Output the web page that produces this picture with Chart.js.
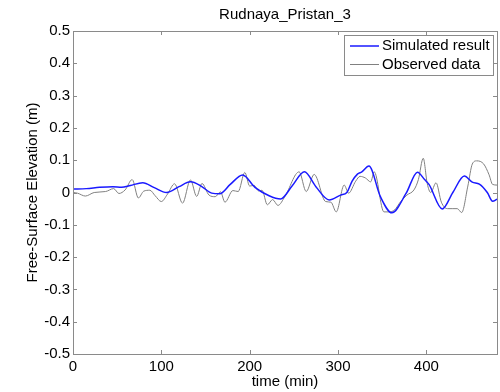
<!DOCTYPE html>
<html>
<head>
<meta charset="utf-8">
<script src="https://cdn.jsdelivr.net/npm/chart.js@4/dist/chart.umd.min.js"></script>
<style>
  html, body { margin: 0; padding: 0; background: #fff; }
  #wrap { width: 500px; height: 392px; }
</style>
</head>
<body>
<div id="wrap"><canvas id="chart"></canvas></div>
<script>
// Values (time in minutes, elevation in metres)
const chartTitle = "Rudnaya_Pristan_3";
const simTime = [0, 15, 30, 45, 55, 65, 79, 92, 106, 120, 133, 145, 157, 166, 178, 192, 206, 222, 235, 248,
                 262, 275, 290, 303, 310, 316, 322, 327, 335, 348, 361, 377, 390, 398, 403, 418, 430, 443, 452, 460,
                 469, 475, 480];
const simValues = [0.011, 0.012, 0.016, 0.018, 0.016, 0.022, 0.030, 0.015, 0.0, 0.018, 0.033, 0.020, -0.002, -0.004, 0.025, 0.054, 0.016, -0.010, -0.020, 0.020,
                   0.064, 0.018, -0.023, -0.008, 0.0, 0.035, 0.057, 0.064, 0.082, -0.013, -0.063, -0.003, 0.063, 0.040, 0.025, -0.051, 0.0, 0.051, 0.032, 0.026,
                   0.0, -0.027, -0.021];
const obsTime = [0, 5, 14, 24, 37, 46, 52, 59, 67, 74, 80, 87, 93, 100, 107, 115, 124, 133, 140, 146,
                 154, 161, 167, 172, 181, 187, 194.5, 200, 205, 210, 214, 220, 226, 232, 240, 256, 264, 273, 286, 292,
                 298, 307, 312, 320, 325, 331, 337, 341, 352, 358, 364, 371, 378, 386, 391, 396.5, 401, 405, 411, 417,
                 424, 430, 435, 440, 447, 452, 457, 465, 471, 475, 480];
const obsValues = [0.0, -0.002, -0.011, 0.0, 0.003, 0.012, -0.003, 0.008, 0.040, -0.017, 0.004, 0.007, -0.010, -0.028, -0.005, 0.027, -0.033, 0.039, -0.012, 0.028,
                   -0.008, -0.013, 0.002, -0.030, 0.006, 0.003, 0.062, 0.020, 0.022, 0.005, 0.007, -0.038, -0.022, -0.040, -0.012, 0.064, 0.003, 0.056, -0.028, -0.030,
                   -0.060, 0.023, -0.002, 0.035, 0.050, 0.045, 0.033, 0.064, -0.060, -0.060, -0.054, -0.028, -0.008, 0.008, 0.040, 0.106, 0.028, 0.0, 0.030, -0.030,
                   -0.050, -0.050, -0.050, -0.062, 0.020, 0.088, 0.098, 0.088, 0.055, 0.025, 0.023];
const xTicks = [0, 100, 200, 300, 400];
const yTicks = [-0.5, -0.4, -0.3, -0.2, -0.1, 0, 0.1, 0.2, 0.3, 0.4, 0.5];
const seriesNames = ["Simulated result", "Observed data"];
const seriesColors = ["#1a1aff", "#808080"];

const FONT = "'Liberation Sans', Arial, sans-serif";
const AXIS_COLOR = "#8a8a8a";

function toPoints(xs, ys) {
    return xs.map((x, i) => ({ x: x, y: ys[i] }));
}

// Box, inward ticks, title and legend in the MATLAB style
const matlabFrame = {
    id: "matlabFrame",
    afterDatasetsDraw(chart) {
        const ctx = chart.ctx;
        const { left, right, top, bottom } = chart.chartArea;
        const xs = chart.scales.x, ys = chart.scales.y;
        ctx.save();
        ctx.strokeStyle = AXIS_COLOR;
        ctx.lineWidth = 1;
        ctx.strokeRect(Math.round(left) + 0.5, Math.round(top) + 0.5,
                       Math.round(right - left), Math.round(bottom - top));
        ctx.beginPath();
        const len = 4;
        xTicks.forEach(v => {
            const px = Math.round(xs.getPixelForValue(v)) + 0.5;
            ctx.moveTo(px, bottom); ctx.lineTo(px, bottom - len);
            ctx.moveTo(px, top); ctx.lineTo(px, top + len);
        });
        yTicks.forEach(v => {
            const py = Math.round(ys.getPixelForValue(v)) + 0.5;
            ctx.moveTo(left, py); ctx.lineTo(left + len, py);
            ctx.moveTo(right, py); ctx.lineTo(right - len, py);
        });
        ctx.stroke();

        // title
        ctx.fillStyle = "#000";
        ctx.font = "15px " + FONT;
        ctx.textAlign = "center";
        ctx.textBaseline = "middle";
        ctx.fillText(chartTitle, (left + right) / 2, 15);

        // legend box
        const bx = 344, by = 35, bw = 149, bh = 40;
        ctx.fillStyle = "#fff";
        ctx.fillRect(bx, by, bw, bh);
        ctx.strokeStyle = AXIS_COLOR;
        ctx.strokeRect(bx + 0.5, by + 0.5, bw, bh);
        ctx.textAlign = "left";
        chart.data.datasets.forEach((ds, i) => {
            const ly = by + 11 + i * 18.5;
            ctx.strokeStyle = ds.borderColor;
            ctx.lineWidth = ds.borderWidth;
            ctx.beginPath();
            ctx.moveTo(350, ly); ctx.lineTo(379, ly);
            ctx.stroke();
            ctx.fillStyle = "#000";
            ctx.fillText(ds.label, 382, ly);
        });
        ctx.restore();
    }
};

new Chart(document.getElementById("chart"), {
    type: "line",
    data: {
        datasets: [
            {
                label: seriesNames[0],
                data: toPoints(simTime, simValues),
                borderColor: seriesColors[0],
                borderWidth: 1.5,
                pointRadius: 0,
                cubicInterpolationMode: "monotone",
                fill: false,
                order: 0
            },
            {
                label: seriesNames[1],
                data: toPoints(obsTime, obsValues),
                borderColor: seriesColors[1],
                borderWidth: 1,
                pointRadius: 0,
                cubicInterpolationMode: "monotone",
                fill: false,
                order: 1
            }
        ]
    },
    options: {
        responsive: true,
        maintainAspectRatio: false,
        animation: false,
        events: [],
        layout: { padding: { top: 31, right: 3, left: 0, bottom: 0 } },
        plugins: {
            legend: { display: false },
            tooltip: { enabled: false },
            title: { display: false }
        },
        scales: {
            x: {
                type: "linear",
                min: 0,
                max: 480,
                afterBuildTicks: s => { s.ticks = xTicks.map(v => ({ value: v })); },
                afterFit: s => { s.height = 38; },
                grid: { display: false, drawTicks: false },
                border: { display: false },
                ticks: {
                    color: "#000",
                    font: { family: FONT, size: 15 },
                    padding: 4,
                    maxRotation: 0,
                    autoSkip: false,
                    callback: v => String(v)
                },
                title: {
                    display: true,
                    text: "time (min)",
                    color: "#000",
                    font: { family: FONT, size: 15 },
                    padding: { top: 0, bottom: 1 }
                }
            },
            y: {
                type: "linear",
                min: -0.5,
                max: 0.5,
                afterBuildTicks: s => { s.ticks = yTicks.map(v => ({ value: v })); },
                afterFit: s => { s.width = 73; },
                grid: { display: false, drawTicks: false },
                border: { display: false },
                ticks: {
                    color: "#000",
                    font: { family: FONT, size: 15 },
                    padding: 3,
                    autoSkip: false,
                    callback: v => {
                        const r = Math.round(v * 10) / 10;
                        return r === 0 ? "0" : r.toFixed(1);
                    }
                },
                title: {
                    display: true,
                    text: "Free-Surface Elevation (m)",
                    color: "#000",
                    font: { family: FONT, size: 15 },
                    padding: { top: 24, bottom: 0 }
                }
            }
        }
    },
    plugins: [matlabFrame]
});
</script>
</body>
</html>
